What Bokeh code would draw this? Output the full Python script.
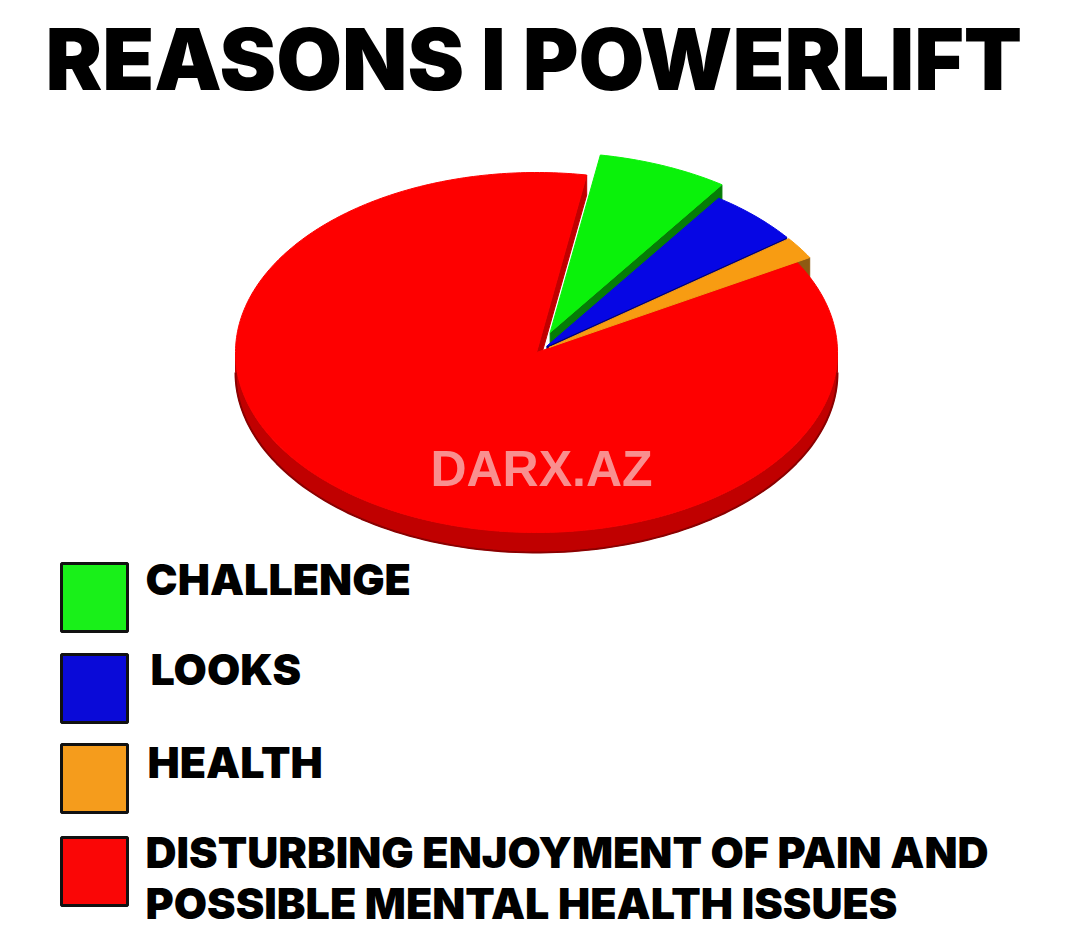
import numpy as np
from bokeh.plotting import figure
from bokeh.models import Range1d
from bokeh.core.properties import value
from bokeh.embed import file_html
from bokeh.resources import INLINE

# ---- data ----
title_text = "REASONS I POWERLIFT"
categories = ["CHALLENGE", "LOOKS", "HEALTH",
              "DISTURBING ENJOYMENT OF PAIN AND\nPOSSIBLE MENTAL HEALTH ISSUES"]
shares = [7, 5, 2, 86]            # percent
top_colors = ["#0af20a", "#0606e4", "#f89c12", "#fe0000"]
side_colors = ["#067d06", "#00007a", "#8e5a12", "#c00000"]
legend_colors = ["#19f019", "#0a0ad8", "#f59c1c", "#fa0606"]
explode = [0.12, 0.05, 0.05, 0.0]
watermark = "DARX.AZ"

# ---- layout parameters ----
W, H = 1080, 944
cx, cy, rx, ry, depth = 536, 352, 301, 180, 20
start_deg = 80.4   # slices run clockwise from here
HEAVY = "Inter Black, Roboto Black, DejaVu Sans"


def base(y, size):
    # bokeh places alphabetic text slightly lower; compensate
    return y - 0.385 * size


p = figure(width=W, height=H, x_range=Range1d(0, W), y_range=Range1d(H, 0),
           output_backend="svg", toolbar_location=None, min_border=0,
           background_fill_color="white", border_fill_color="white")
p.axis.visible = False
p.grid.visible = False
p.outline_line_color = None

vals = np.array(shares, dtype=float)
fr = vals / vals.sum()
a_hi = np.radians(start_deg) - 2 * np.pi * np.concatenate([[0], np.cumsum(fr)[:-1]])
a_lo = a_hi - 2 * np.pi * fr


def pt(a, ox, oy, dy=0.0):
    return cx + ox + rx * np.cos(a), cy + oy + dy - ry * np.sin(a)


wall_xs, wall_ys, wall_c = [], [], []
top_xs, top_ys, top_c = [], [], []
rim_xs, rim_ys = [], []
for i in range(len(vals)):
    mid = 0.5 * (a_lo[i] + a_hi[i])
    ox = explode[i] * rx * np.cos(mid)
    oy = -explode[i] * ry * np.sin(mid)
    for f0, f1 in [(-np.pi, 0.0), (np.pi, 2 * np.pi), (-3 * np.pi, -2 * np.pi)]:
        lo, hi = max(a_lo[i], f0), min(a_hi[i], f1)
        if hi > lo:
            th = np.linspace(lo, hi, 120)
            x1, y1 = pt(th, ox, oy)
            x2, y2 = pt(th[::-1], ox, oy, depth)
            wall_xs.append(np.concatenate([x1, x2]))
            wall_ys.append(np.concatenate([y1, y2]))
            wall_c.append(side_colors[i])
            rim_xs.append(x2)
            rim_ys.append(y2)
    for a, vis in [(a_lo[i], np.cos(a_lo[i]) > 0), (a_hi[i], np.cos(a_hi[i]) < 0)]:
        if vis:
            ex, ey = pt(a, ox, oy)
            wall_xs.append(np.array([cx + ox, ex, ex, cx + ox]))
            wall_ys.append(np.array([cy + oy, ey, ey + depth, cy + oy + depth]))
            wall_c.append(side_colors[i])
    th = np.linspace(a_lo[i], a_hi[i], max(8, int(400 * fr[i])))
    x1, y1 = pt(th, ox, oy)
    top_xs.append(np.concatenate([[cx + ox], x1]))
    top_ys.append(np.concatenate([[cy + oy], y1]))
    top_c.append(top_colors[i])

p.patches(xs=wall_xs, ys=wall_ys, fill_color=wall_c, line_color=wall_c, line_width=1)
p.multi_line(xs=rim_xs, ys=rim_ys, line_color="#8a0000", line_width=2)
order = [3, 0, 1, 2]
p.patches(xs=[top_xs[k] for k in order], ys=[top_ys[k] for k in order],
          fill_color=[top_c[k] for k in order], line_color=[top_c[k] for k in order],
          line_width=1)

# title
p.text(x=[45], y=[base(92, 85)], text=[title_text], text_font=value(HEAVY),
       text_font_style="bold", text_font_size="85px", text_color="black",
       text_baseline="alphabetic", text_align="left")

# watermark
p.text(x=[541], y=[base(488, 50)], text=[watermark], text_font=value("Liberation Sans"),
       text_font_style="bold", text_font_size="50px", text_color="#f98f8f",
       text_baseline="alphabetic", text_align="center")

# legend
box_y = [597, 688, 778, 871]
p.rect(x=[94] * 4, y=box_y, width=66, height=68, fill_color=legend_colors,
       line_color="#111111", line_width=3)
label_x = [145, 150, 147, 145]
label_base = [595, 685, 778, 868]
lx, ly, lt = [], [], []
for i, lab in enumerate(categories):
    for j, line in enumerate(lab.split("\n")):
        lx.append(label_x[i])
        ly.append(base(label_base[i] + 51 * j, 43))
        lt.append(line)
p.text(x=lx, y=ly, text=lt, text_font=value(HEAVY), text_font_style="bold",
       text_font_size="43px", text_color="black", text_baseline="alphabetic",
       text_align="left")

open("out.html", "w").write(file_html(p, INLINE))
